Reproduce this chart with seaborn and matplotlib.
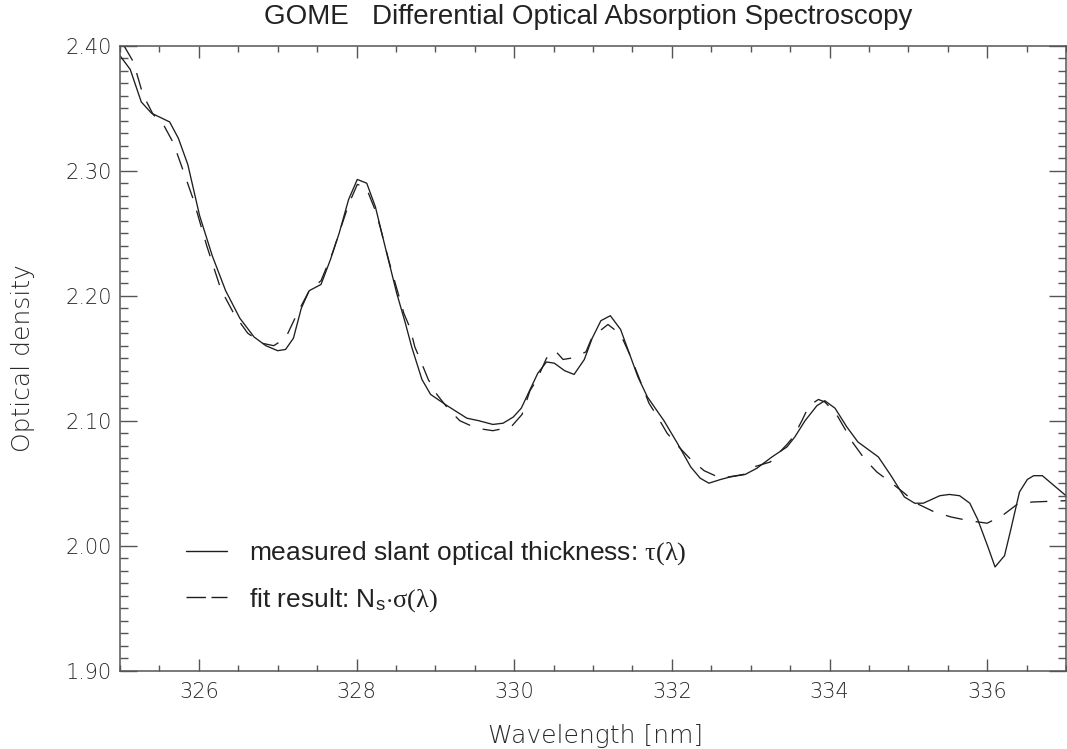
import matplotlib
matplotlib.use("Agg")
import matplotlib.pyplot as plt
import numpy as np
import pandas as pd
import seaborn as sns
from matplotlib import font_manager
from matplotlib.ticker import MultipleLocator, FormatStrFormatter
from matplotlib.lines import Line2D

# ---------------- data ----------------
measured_wl = [325.00, 325.13, 325.27, 325.40, 325.63, 325.74, 325.86, 326.01, 326.17,
               326.34, 326.52, 326.70, 326.85, 327.00, 327.10, 327.20, 327.30, 327.40,
               327.55, 327.67, 327.78, 327.90, 328.01, 328.13, 328.24, 328.36, 328.51,
               328.62, 328.70, 328.83, 328.94, 329.15, 329.40, 329.55, 329.73, 329.86,
               329.99, 330.09, 330.30, 330.41, 330.51, 330.64, 330.76, 330.89, 330.99,
               331.10, 331.22, 331.35, 331.57, 331.69, 331.90, 332.07, 332.24, 332.36,
               332.47, 332.62, 332.74, 332.93, 333.08, 333.27, 333.46, 333.56, 333.69,
               333.84, 333.94, 334.07, 334.22, 334.36, 334.49, 334.62, 334.77, 334.95,
               335.08, 335.19, 335.40, 335.52, 335.65, 335.78, 335.88, 336.01, 336.10,
               336.22, 336.30, 336.41, 336.51, 336.59, 336.70, 336.85, 337.00]
measured_od = [2.392, 2.381, 2.355, 2.346, 2.339, 2.326, 2.305, 2.264, 2.232,
               2.204, 2.182, 2.167, 2.160, 2.156, 2.157, 2.166, 2.190, 2.204,
               2.209, 2.229, 2.250, 2.277, 2.293, 2.290, 2.271, 2.240, 2.202,
               2.178, 2.159, 2.133, 2.121, 2.112, 2.102, 2.100, 2.097, 2.098,
               2.103, 2.110, 2.138, 2.147, 2.146, 2.140, 2.137, 2.149, 2.166,
               2.180, 2.184, 2.173, 2.135, 2.119, 2.100, 2.082, 2.063, 2.054,
               2.050, 2.053, 2.055, 2.057, 2.062, 2.071, 2.079, 2.087, 2.100,
               2.112, 2.116, 2.110, 2.095, 2.083, 2.077, 2.071, 2.057, 2.039,
               2.034, 2.034, 2.040, 2.041, 2.040, 2.034, 2.021, 1.999, 1.983,
               1.992, 2.013, 2.043, 2.053, 2.056, 2.056, 2.048, 2.040]

fit_wl = [325.05, 325.17, 325.29, 325.42, 325.55, 325.67, 325.74, 325.93, 326.10,
          326.28, 326.45, 326.62, 326.80, 326.95, 327.10, 327.25, 327.40, 327.55,
          327.70, 327.90, 328.01, 328.12, 328.24, 328.30, 328.41, 328.60, 328.68,
          328.74, 328.82, 328.91, 329.02, 329.17, 329.31, 329.52, 329.73, 329.96,
          330.10, 330.20, 330.29, 330.41, 330.52, 330.62, 330.72, 330.91, 330.99,
          331.19, 331.35, 331.48, 331.71, 331.82, 331.94, 332.09, 332.24, 332.41,
          332.62, 332.91, 333.04, 333.25, 333.46, 333.54, 333.65, 333.74, 333.86,
          333.94, 334.08, 334.20, 334.30, 334.45, 334.60, 334.79, 334.95, 335.10,
          335.33, 335.54, 335.77, 336.00, 336.19, 336.40, 336.59, 337.00]
fit_od = [2.400, 2.387, 2.361, 2.345, 2.337, 2.323, 2.311, 2.277, 2.240,
          2.205, 2.185, 2.170, 2.162, 2.160, 2.166, 2.186, 2.204, 2.212,
          2.235, 2.273, 2.289, 2.287, 2.268, 2.255, 2.228, 2.186, 2.174,
          2.159, 2.147, 2.133, 2.121, 2.109, 2.100, 2.094, 2.092, 2.095,
          2.105, 2.124, 2.133, 2.150, 2.156, 2.149, 2.150, 2.155, 2.167,
          2.177, 2.169, 2.151, 2.114, 2.103, 2.090, 2.079, 2.069, 2.060,
          2.054, 2.057, 2.063, 2.067, 2.081, 2.087, 2.100, 2.112, 2.117,
          2.115, 2.106, 2.093, 2.082, 2.069, 2.059, 2.050, 2.042, 2.034,
          2.027, 2.023, 2.020, 2.018, 2.024, 2.034, 2.035, 2.036]

x_ticks = [326, 328, 330, 332, 334, 336]
y_ticks = [1.90, 2.00, 2.10, 2.20, 2.30, 2.40]

title_text = "GOME   Differential Optical Absorption Spectroscopy"
xlabel_text = "Wavelength [nm]"
ylabel_text = "Optical density"
label_measured = r"measured slant optical thickness: $\mathrm{\tau(\lambda)}$"
label_fit = r"fit result: N$_{\mathsf{s}}$$\mathbf{\cdot}$$\mathrm{\sigma(\lambda)}$"

# ---------------- style ----------------
sns.set_style("ticks")
plt.rcParams["font.family"] = ["Liberation Sans", "DejaVu Sans"]
plt.rcParams["mathtext.fontset"] = "custom"
plt.rcParams["mathtext.rm"] = "Liberation Serif"
plt.rcParams["mathtext.it"] = "Liberation Serif:italic"
plt.rcParams["mathtext.sf"] = "Liberation Sans"
plt.rcParams["mathtext.bf"] = "Liberation Sans:bold"


def pick_thin_font():
    cands = [("DejaVu Sans", 250), ("Roboto", 350), ("Open Sans", 350), ("Lato", 350)]
    for name, maxw in cands:
        for f in font_manager.fontManager.ttflist:
            w = f.weight if isinstance(f.weight, int) else font_manager.weight_dict.get(f.weight, 400)
            if f.name == name and w <= maxw and w >= 200 and f.style == "normal":
                return f.fname
    return None


thin_path = pick_thin_font()
if thin_path:
    thin_prop = dict(fname=thin_path)
else:
    thin_prop = dict(family="DejaVu Sans", weight="light")


def thin(size):
    return font_manager.FontProperties(size=size, **thin_prop)


W, H = 1067, 749
fig = plt.figure(figsize=(W / 100, H / 100), dpi=100)
left, right, top, bottom = 120, 1066, 45.7, 670.7
ax = fig.add_axes([left / W, (H - bottom) / H, (right - left) / W, (bottom - top) / H])

line_col = "#1e1e1e"
df_meas = pd.DataFrame({"wl": measured_wl, "od": measured_od})
df_fit = pd.DataFrame({"wl": fit_wl, "od": fit_od})
sns.lineplot(data=df_meas, x="wl", y="od", ax=ax, color=line_col, lw=0.95,
             estimator=None, sort=False)
sns.lineplot(data=df_fit, x="wl", y="od", ax=ax, color=line_col, lw=0.95,
             estimator=None, sort=False, linestyle=(0, (13, 10)))

ax.set_xlim(325, 337)
ax.set_ylim(1.90, 2.40)
ax.set_xticks(x_ticks)
ax.set_yticks(y_ticks)
ax.xaxis.set_minor_locator(MultipleLocator(0.5))
ax.yaxis.set_minor_locator(MultipleLocator(0.01))
ax.yaxis.set_major_formatter(FormatStrFormatter("%.2f"))
ax.xaxis.set_major_formatter(FormatStrFormatter("%d"))

spine_col = "#555555"
for s in ax.spines.values():
    s.set_visible(True)
    s.set_color(spine_col)
    s.set_linewidth(1.1)

lab_col = "#2a2a2a"
ax.tick_params(axis="x", which="major", direction="in", length=8.6, width=1.0,
               color=spine_col, top=True, bottom=True, pad=8, labelcolor=lab_col)
ax.tick_params(axis="x", which="minor", direction="in", length=4.3, width=1.0,
               color=spine_col, top=True, bottom=True)
ax.tick_params(axis="y", which="major", direction="in", length=12, width=1.0,
               color=spine_col, left=True, right=True, pad=6, labelcolor=lab_col)
ax.tick_params(axis="y", which="minor", direction="in", length=6, width=1.0,
               color=spine_col, left=True, right=True)
for lab in ax.get_xticklabels() + ax.get_yticklabels():
    lab.set_fontproperties(thin(15))
    lab.set_color(lab_col)

ax.set_xlabel("")
ax.set_ylabel("")
fig.text(595 / W, 1 - 736 / H, xlabel_text, ha="center", va="center",
         fontproperties=thin(18), color=lab_col)
fig.text(23 / W, 1 - ((top + bottom) / 2) / H, ylabel_text, ha="center", va="center",
         rotation=90, fontproperties=thin(18), color=lab_col)
fig.text(588 / W, 1 - 17 / H, title_text, ha="center", va="center",
         fontsize=20, color="#222222", family=["Liberation Sans", "DejaVu Sans"])

handles = [Line2D([], [], color=line_col, lw=1.0),
           Line2D([], [], color=line_col, lw=1.0, linestyle=(0, (14, 4)))]
leg = ax.legend(handles, [label_measured, label_fit], loc="center left",
                bbox_to_anchor=((186 - left) / (right - left), (bottom - 576.5) / (bottom - top)),
                frameon=False, borderpad=0, borderaxespad=0, handlelength=1.55,
                handletextpad=0.85, labelspacing=0.7,
                prop=dict(family=["Liberation Sans", "DejaVu Sans"], size=19))
for t in leg.get_texts():
    t.set_color("#222222")

fig.savefig("out.png", dpi=100, facecolor="white")
